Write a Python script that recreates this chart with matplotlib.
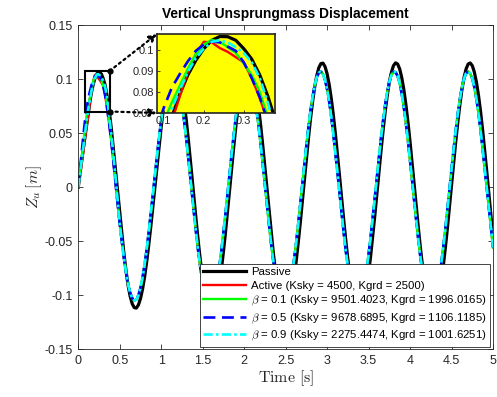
import numpy as np
import matplotlib
matplotlib.use("Agg")
import matplotlib.pyplot as plt
from matplotlib.patches import Rectangle, ConnectionPatch

plt.rcParams['font.family'] = ['Liberation Sans', 'DejaVu Sans']
plt.rcParams['mathtext.fontset'] = 'cm'

# ---- sample times -------------------------------------------------------
time_early = np.round(np.arange(0.0, 0.40001, 0.02), 3)      # 0.00 .. 0.40
time_late = np.round(np.arange(0.425, 5.00001, 0.025), 3)    # 0.425 .. 5.00

# ---- unsprung mass displacement [m] --------------------------------------
passive_early = [0.000, 0.012, 0.024, 0.035, 0.046, 0.057, 0.068, 0.079, 0.088, 0.095,
                 0.1005, 0.1045, 0.1063, 0.1062, 0.1045, 0.1005, 0.0955, 0.088, 0.078, 0.066,
                 0.053]
passive_late = [
    0.034, 0.0145, -0.005, -0.024, -0.043, -0.061, -0.077, -0.0907,
    -0.1007, -0.1078, -0.1114, -0.1118, -0.1089, -0.1030, -0.0942, -0.0827,
    -0.0689, -0.053, -0.0358, -0.0173, 0.0015, 0.0204, 0.0387, 0.056,
    0.0718, 0.086, 0.0972, 0.106, 0.1119, 0.1148, 0.1144, 0.1104,
    0.1031, 0.0926, 0.0791, 0.0633, 0.0454, 0.0261, 0.0061, -0.0142,
    -0.0340, -0.0527, -0.0699, -0.0848, -0.0972, -0.1063, -0.1124, -0.1149,
    -0.1139, -0.1093, -0.1013, -0.0900, -0.0762, -0.0597, -0.0416, -0.0222,
    -0.0020, 0.0183, 0.0379, 0.0564, 0.0730, 0.0876, 0.0993, 0.1078,
    0.1132, 0.1150, 0.1132, 0.1079, 0.0993, 0.0875, 0.0730, 0.0563,
    0.0379, 0.0182, -0.0020, -0.0222, -0.0416, -0.0598, -0.0762, -0.0901,
    -0.1013, -0.1093, -0.1139, -0.1149, -0.1124, -0.1063, -0.0972, -0.0848,
    -0.0697, -0.0526, -0.0339, -0.0141, 0.0061, 0.0263, 0.0454, 0.0635,
    0.0791, 0.0927, 0.1031, 0.1105, 0.1143, 0.1147, 0.1115, 0.1048,
    0.0949, 0.0820, 0.0666, 0.0492, 0.0301, 0.0101, -0.0101, -0.0301,
    -0.0492, -0.0666, -0.0820, -0.0949, -0.1048, -0.1116, -0.1147, -0.1144,
    -0.1105, -0.1030, -0.0927, -0.0792, -0.0634, -0.0452, -0.0262, -0.0061,
    0.0142, 0.0339, 0.0527, 0.0699, 0.0848, 0.0972, 0.1063, 0.1124,
    0.1150, 0.1139, 0.1093, 0.1012, 0.0901, 0.0761, 0.0598, 0.0417,
    0.0222, 0.0020, -0.0182, -0.0378, -0.0563, -0.0730, -0.0875, -0.0993,
    -0.1079, -0.1132, -0.1150, -0.1132, -0.1079, -0.0993, -0.0875, -0.0730,
    -0.0563, -0.0378, -0.0182, 0.0020, 0.0222, 0.0417, 0.0598, 0.0761,
    0.0901, 0.1012, 0.1093, 0.1139, 0.1149, 0.1124, 0.1064, 0.0971,
    0.0848, 0.0699, 0.0527, 0.0339, 0.0142, -0.0061, -0.0262, -0.0454]

active_early = [0.000, 0.010, 0.021, 0.033, 0.045, 0.056, 0.066, 0.078, 0.0895, 0.098,
                0.1038, 0.1035, 0.1008, 0.0990, 0.0965, 0.0940, 0.0865, 0.077, 0.066, 0.054,
                0.041]
beta01_early = [0.000, 0.013, 0.027, 0.041, 0.054, 0.066, 0.075, 0.083, 0.091, 0.098,
                0.1025, 0.1047, 0.1038, 0.1012, 0.0985, 0.0935, 0.088, 0.080, 0.068, 0.056,
                0.042]
beta05_early = [0.000, 0.016, 0.032, 0.047, 0.061, 0.0725, 0.082, 0.0885, 0.0945, 0.0995,
                0.1025, 0.1039, 0.1035, 0.1015, 0.0995, 0.094, 0.0865, 0.0775, 0.066, 0.054,
                0.041]
beta09_early = [0.000, 0.012, 0.025, 0.037, 0.049, 0.061, 0.072, 0.081, 0.0895, 0.096,
                0.1005, 0.1038, 0.1045, 0.1035, 0.1012, 0.0985, 0.094, 0.0865, 0.075, 0.061,
                0.048]

# values at t = 0.425, 0.45, 0.475 s for each controlled case
active_trans = [0.022, 0.002, -0.016]
beta01_trans = [0.023, 0.003, -0.015]
beta05_trans = [0.022, 0.002, -0.016]
beta09_trans = [0.029, 0.009, -0.012]

# controlled cases follow the same response from t = 0.50 s on
controlled_late = [
    -0.0339,
    -0.0503, -0.0655, -0.0786, -0.0894, -0.0975, -0.1027, -0.1049, -0.1040,
    -0.1000, -0.0931, -0.0835, -0.0714, -0.0572, -0.0412, -0.0241, -0.0062,
    0.0118, 0.0296, 0.0466, 0.0622, 0.0759, 0.0876, 0.0968, 0.1030,
    0.1064, 0.1067, 0.1037, 0.0975, 0.0883, 0.0763, 0.0619, 0.0458,
    0.0280, 0.0094, -0.0094, -0.0280, -0.0457, -0.0620, -0.0763, -0.0883,
    -0.0975, -0.1038, -0.1067, -0.1064, -0.1028, -0.0959, -0.0863, -0.0737,
    -0.0590, -0.0420, -0.0244, -0.0056, 0.0132, 0.0315, 0.0490, 0.0651,
    0.0789, 0.0904, 0.0989, 0.1046, 0.1070, 0.1059, 0.1017, 0.0942,
    0.0838, 0.0708, 0.0556, 0.0388, 0.0207, 0.0019, -0.0169, -0.0352,
    -0.0524, -0.0679, -0.0814, -0.0924, -0.1004, -0.1053, -0.1070, -0.1053,
    -0.1004, -0.0924, -0.0814, -0.0679, -0.0524, -0.0352, -0.0169, 0.0019,
    0.0207, 0.0388, 0.0556, 0.0708, 0.0838, 0.0942, 0.1017, 0.1059,
    0.1069, 0.1046, 0.0990, 0.0904, 0.0789, 0.0650, 0.0490, 0.0315,
    0.0132, -0.0057, -0.0243, -0.0422, -0.0590, -0.0737, -0.0863, -0.0959,
    -0.1028, -0.1064, -0.1067, -0.1038, -0.0975, -0.0883, -0.0763, -0.0619,
    -0.0457, -0.0280, -0.0094, 0.0094, 0.0280, 0.0457, 0.0619, 0.0763,
    0.0883, 0.0975, 0.1037, 0.1067, 0.1064, 0.1028, 0.0959, 0.0861,
    0.0736, 0.0589, 0.0422, 0.0243, 0.0057, -0.0132, -0.0316, -0.0490,
    -0.0650, -0.0789, -0.0904, -0.0989, -0.1046, -0.1069, -0.1059, -0.1017,
    -0.0943, -0.0837, -0.0709, -0.0556, -0.0387, -0.0206, -0.0019, 0.0170,
    0.0352, 0.0525, 0.0680, 0.0815, 0.0924, 0.1003, 0.1054, 0.1070,
    0.1053, 0.1004, 0.0924, 0.0814, 0.0680, 0.0524, 0.0352, 0.0169,
    -0.0019, -0.0206, -0.0387, -0.0557]

labels = ['Passive',
          'Active (Ksky = 4500, Kgrd = 2500)',
          r'$\beta$ = 0.1 (Ksky = 9501.4023, Kgrd = 1996.0165)',
          r'$\beta$ = 0.5 (Ksky = 9678.6895, Kgrd = 1106.1185)',
          r'$\beta$ = 0.9 (Ksky = 2275.4474, Kgrd = 1001.6251)']

xticks = [0, 0.5, 1, 1.5, 2, 2.5, 3, 3.5, 4, 4.5, 5]
xtick_labels = ['0', '0.5', '1', '1.5', '2', '2.5', '3', '3.5', '4', '4.5', '5']
yticks = [-0.15, -0.1, -0.05, 0, 0.05, 0.1, 0.15]
ytick_labels = ['-0.15', '-0.1', '-0.05', '0', '0.05', '0.1', '0.15']

zoom_x = (0.083, 0.378)
zoom_y = (0.07, 0.1075)
inset_xticks = [0.1, 0.2, 0.3]
inset_xtick_labels = ['0.1', '0.2', '0.3']
inset_yticks = [0.07, 0.08, 0.09, 0.1]
inset_ytick_labels = ['0.07', '0.08', '0.09', '0.1']

# ---- assemble series ----------------------------------------------------
time = np.concatenate([time_early, time_late])
passive = np.concatenate([passive_early, passive_late])
active = np.concatenate([active_early, active_trans, controlled_late])
beta01 = np.concatenate([beta01_early, beta01_trans, controlled_late])
beta05 = np.concatenate([beta05_early, beta05_trans, controlled_late])
beta09 = np.concatenate([beta09_early, beta09_trans, controlled_late])

series = [passive, active, beta01, beta05, beta09]
styles = [dict(color='k', lw=2.3, ls='-'),
          dict(color='#ff0000', lw=1.7, ls='-'),
          dict(color='#00ff00', lw=1.7, ls='-'),
          dict(color='#0000ff', lw=1.9, ls=(0, (4.5, 2.5))),
          dict(color='#00ffff', lw=1.9, ls=(0, (3.5, 1.2, 1, 1.2)))]

ink = '#262626'

fig = plt.figure(figsize=(4.97, 3.97), dpi=100)
ax = fig.add_axes([0.1575, 0.120, 0.8345, 0.817])

for y, st, lab in zip(series, styles, labels):
    ax.plot(time, y, label=lab, **st)

ax.set_xlim(0, 5)
ax.set_ylim(-0.15, 0.15)
ax.set_xticks(xticks)
ax.set_xticklabels(xtick_labels)
ax.set_yticks(yticks)
ax.set_yticklabels(ytick_labels)
ax.tick_params(direction='in', top=True, right=True, length=3.5, width=0.6,
               colors=ink, labelsize=9, pad=4)
for sp in ax.spines.values():
    sp.set_color(ink)
    sp.set_linewidth(0.6)

ax.set_title('Vertical Unsprungmass Displacement', fontsize=9.9, fontweight='bold', pad=5)
ax.set_xlabel(r'$\mathrm{Time}\ [\mathrm{s}]$', fontsize=11.5, color=ink, labelpad=1)
ax.set_ylabel(r'$Z_u\,[m]$', fontsize=11.5, color=ink, labelpad=0)

leg = ax.legend(loc='lower right', fontsize=8.2, fancybox=False, framealpha=1,
                edgecolor=ink, handlelength=3.8, labelspacing=0.28, borderpad=0.3,
                borderaxespad=0.25, handletextpad=0.4)
leg.get_frame().set_linewidth(0.6)

# zoom window on the first peak
ax.add_patch(Rectangle((zoom_x[0], zoom_y[0]), zoom_x[1] - zoom_x[0], zoom_y[1] - zoom_y[0],
                       fill=False, edgecolor='k', lw=1.5, zorder=5))

axin = fig.add_axes([0.3159, 0.7154, 0.2374, 0.199])
axin.set_facecolor('#ffff00')
for y, st in zip(series, styles):
    axin.plot(time, y, **st)
axin.set_xlim(*zoom_x)
axin.set_ylim(*zoom_y)
axin.set_xticks(inset_xticks)
axin.set_xticklabels(inset_xtick_labels)
axin.set_yticks(inset_yticks)
axin.set_yticklabels(inset_ytick_labels)
axin.tick_params(direction='in', length=2.5, width=0.6, colors=ink, labelsize=8, pad=2)
for sp in axin.spines.values():
    sp.set_color(ink)
    sp.set_linewidth(1.2)

# dotted leader lines with arrow heads from the zoom window to the inset
for cy, iy in [(zoom_y[1], 1.0), (zoom_y[0], 0.0)]:
    ax.plot([zoom_x[1]], [cy], 'o', color='k', ms=3.5, zorder=6, clip_on=False)
    con = ConnectionPatch(xyA=(zoom_x[1], cy), coordsA=ax.transData,
                          xyB=(0.0, iy), coordsB=axin.transAxes,
                          arrowstyle='-|>', linestyle=':', lw=1.6, color='k',
                          mutation_scale=11, shrinkA=0, shrinkB=0)
    fig.add_artist(con)

fig.savefig('out.png', dpi=100, facecolor='white')
